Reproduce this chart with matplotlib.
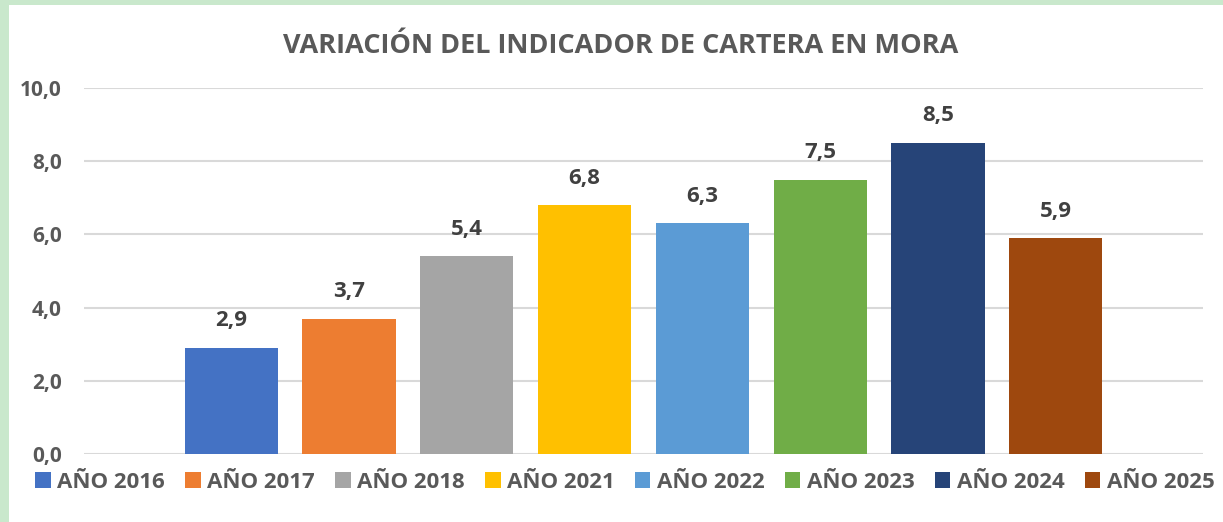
import matplotlib.pyplot as plt
from matplotlib.patches import Rectangle

# Data
years  = ['AÑO 2016', 'AÑO 2017', 'AÑO 2018', 'AÑO 2021', 'AÑO 2022', 'AÑO 2023', 'AÑO 2024', 'AÑO 2025']
values = [2.9, 3.7, 5.4, 6.8, 6.3, 7.5, 8.5, 5.9]
colors = ['#4472C4', '#ED7D31', '#A5A5A5', '#FFC000', '#5B9BD5', '#70AD47', '#264478', '#9E480E']
yticks = [0, 2, 4, 6, 8, 10]

text_color = '#595959'
plt.rcParams['font.family'] = ['Open Sans', 'DejaVu Sans']

W, H = 1223, 522
fig = plt.figure(figsize=(W / 100, H / 100), dpi=100)
fig.patch.set_facecolor('#c9e8cc')

# white chart area over the green page background
fig.patches.append(Rectangle((9 / W, 0), 1, 1 - 5 / H, transform=fig.transFigure,
                             facecolor='white', edgecolor='none', zorder=0))

ax = fig.add_axes([84 / W, (H - 454) / H, 1119 / W, (454 - 88) / H])
ax.set_zorder(2)
ax.set_facecolor('none')

for i, (lab, v, c) in enumerate(zip(years, values, colors)):
    ax.bar(i, v, width=0.79, color=c, label=lab, zorder=3)
    ax.text(i, v + 0.45, f'{v:.1f}'.replace('.', ','), ha='center', va='bottom',
            fontsize=16, fontweight='bold', color='#404040')

ax.set_xlim(-1.25, 8.25)
ax.set_ylim(0, 10)
ax.set_yticks(yticks)
ax.set_yticklabels([f'{t:.1f}'.replace('.', ',') for t in yticks],
                   fontsize=15, fontweight='bold', color=text_color)
ax.tick_params(axis='y', length=0, pad=16)
ax.set_xticks([])
ax.grid(axis='y', color='#d9d9d9', linewidth=1.5, zorder=0)
for s in ax.spines.values():
    s.set_visible(False)

fig.text(621 / W, 1 - 46 / H, 'VARIACIÓN DEL INDICADOR DE CARTERA EN MORA',
         ha='center', va='center', fontsize=19.5, fontweight='bold', color=text_color,
         zorder=3)

leg = fig.legend(loc='center', bbox_to_anchor=(625 / W, 1 - 482 / H), ncol=8, frameon=False,
                 handlelength=0.7, handleheight=0.7, handletextpad=0.3, columnspacing=0.9,
                 prop={'size': 16, 'weight': 'bold'}, labelcolor=text_color)
leg.set_zorder(3)

plt.savefig('out.png', dpi=100)
